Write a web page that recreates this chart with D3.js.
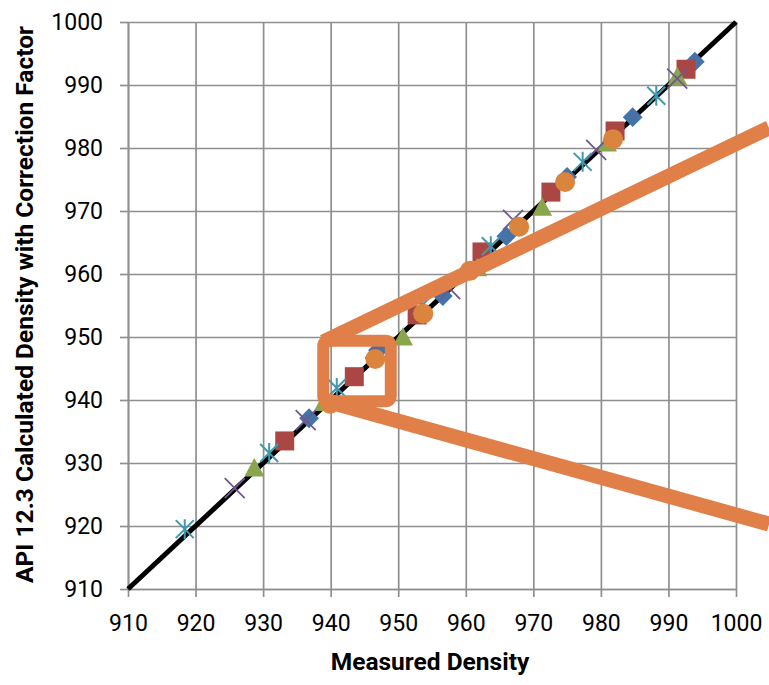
<!DOCTYPE html>
<meta charset="utf-8">
<html>
<head>
<style>
body {
  margin: 0;
  background: #fff;
  font-family: Roboto, "Open Sans", sans-serif;
}

.grid line {
  stroke: #8f8f8f;
  stroke-width: 1.7;
}

.grid path {
  stroke-width: 0;
}

.axis path, .axis line {
  stroke: #8f8f8f;
  stroke-width: 1.7;
}

.axis text {
  font-family: Roboto, sans-serif;
  font-size: 23px;
  fill: #000;
}
</style>
</head>
<body>

<div id="my_dataviz"></div>

<script src="https://d3js.org/d3.v7.min.js"></script>
<script>

// tick values, same for both axes
var ticks = [910, 920, 930, 940, 950, 960, 970, 980, 990, 1000];

// [measured, calculated] per series
var diamondPts = [[936.8, 937.1], [947.0, 947.9], [956.6, 956.5], [966.0, 966.0], [975.0, 975.4], [984.7, 984.9], [993.9, 993.7]];
var squarePts = [[933.2, 933.5], [943.5, 943.7], [952.8, 953.5], [962.4, 963.5], [972.6, 973.0], [982.1, 982.7], [992.6, 992.5]];
var trianglePts = [[928.7, 929.2], [939.0, 939.6], [950.7, 950.0], [961.7, 961.0], [971.3, 970.6], [980.9, 980.8], [991.3, 991.3]];
var crossPts = [[925.8, 926.0], [936.3, 936.8], [946.6, 948.2], [957.7, 957.6], [967.0, 968.6], [979.3, 979.7], [991.3, 991.0]];
var starPts = [[918.4, 919.5], [930.9, 931.6], [940.9, 941.9], [953.5, 955.0], [963.7, 964.4], [977.3, 977.8], [988.2, 988.3]];
var circlePts = [[939.9, 939.4], [946.6, 946.5], [953.7, 953.7], [960.6, 960.5], [967.9, 967.5], [974.7, 974.6], [981.8, 981.4]];

// the y = x reference line
var refLine = [[910, 910], [1000, 1000]];

// orange callout drawn over the chart (data units)
var calloutBox = [938.9, 939.8, 948.9, 949.4];   // x0, y0, x1, y1
var calloutTop = [[938.9, 949.2], [1004.9, 983.2]];
var calloutBottom = [[939.1, 939.9], [1004.9, 920.3]];

var margin = {top: 22, right: 33, bottom: 96, left: 128},
    width = 769 - margin.left - margin.right,
    height = 685 - margin.top - margin.bottom;

var svg = d3.select("#my_dataviz")
  .append("svg")
    .attr("width", width + margin.left + margin.right)
    .attr("height", height + margin.top + margin.bottom)
  .append("g")
    .attr("transform", "translate(" + margin.left + "," + margin.top + ")");

var x = d3.scaleLinear()
  .domain([910, 1000])
  .range([0, width]);

var y = d3.scaleLinear()
  .domain([910, 1000])
  .range([height, 0]);

// gridlines
svg.append("g")
  .attr("class", "grid")
  .attr("transform", "translate(0," + height + ")")
  .call(d3.axisBottom(x).tickValues(ticks).tickSize(-height).tickFormat(""));

svg.append("g")
  .attr("class", "grid")
  .call(d3.axisLeft(y).tickValues(ticks).tickSize(-width).tickFormat(""));

// axes
svg.append("g")
  .attr("class", "axis")
  .attr("transform", "translate(0," + height + ")")
  .call(d3.axisBottom(x).tickValues(ticks).tickSize(8).tickSizeOuter(0).tickPadding(18).tickFormat(d3.format("d")));

svg.append("g")
  .attr("class", "axis")
  .call(d3.axisLeft(y).tickValues(ticks).tickSize(8).tickSizeOuter(0).tickPadding(17).tickFormat(d3.format("d")));

// axis titles
svg.append("text")
  .attr("x", width / 2 - 2)
  .attr("y", height + 81)
  .style("text-anchor", "middle")
  .style("font-family", "Roboto, sans-serif")
  .style("font-weight", "bold")
  .style("font-size", "24.5px")
  .text("Measured Density");

svg.append("text")
  .attr("transform", "rotate(-90)")
  .attr("x", -(height / 2) + 1)
  .attr("y", -95)
  .style("text-anchor", "middle")
  .style("font-family", "Roboto, sans-serif")
  .style("font-weight", "bold")
  .style("font-size", "24.5px")
  .text("API 12.3 Calculated Density with Correction Factor");

// y = x line
svg.append("path")
  .datum(refLine)
  .attr("d", d3.line()
    .x(function(d) { return x(d[0]) })
    .y(function(d) { return y(d[1]) })
  )
  .attr("stroke", "black")
  .style("stroke-width", 5)
  .style("fill", "none");

function pos(d) {
  return "translate(" + x(d[0]) + "," + y(d[1]) + ")";
}

// blue diamonds
svg.append("g").selectAll("path")
  .data(diamondPts)
  .enter()
  .append("path")
    .attr("transform", function(d) { return pos(d) + " rotate(45)" })
    .attr("d", d3.symbol().type(d3.symbolSquare).size(196))
    .style("fill", "#4572A7");

// red squares
svg.append("g").selectAll("path")
  .data(squarePts)
  .enter()
  .append("path")
    .attr("transform", pos)
    .attr("d", d3.symbol().type(d3.symbolSquare).size(361))
    .style("fill", "#AA4643");

// green triangles
svg.append("g").selectAll("path")
  .data(trianglePts)
  .enter()
  .append("path")
    .attr("transform", pos)
    .attr("d", "M0,-10L10,8.5L-10,8.5Z")
    .style("fill", "#89A54E");

// purple crosses
svg.append("g").selectAll("path")
  .data(crossPts)
  .enter()
  .append("path")
    .attr("transform", pos)
    .attr("d", "M-10,-10L10,10M-10,10L10,-10")
    .attr("stroke", "#71588F")
    .style("stroke-width", 1.8)
    .style("fill", "none");

// cyan asterisks
svg.append("g").selectAll("path")
  .data(starPts)
  .enter()
  .append("path")
    .attr("transform", pos)
    .attr("d", "M-9,-9L9,9M-9,9L9,-9M0,-10L0,10")
    .attr("stroke", "#4198AF")
    .style("stroke-width", 2)
    .style("fill", "none");

// orange circles
svg.append("g").selectAll("circle")
  .data(circlePts)
  .enter()
  .append("circle")
    .attr("cx", function(d) { return x(d[0]) })
    .attr("cy", function(d) { return y(d[1]) })
    .attr("r", 10)
    .style("fill", "#DB843D");

// callout: zoom box and the two lines
var callColor = "#E07F47";

svg.append("rect")
  .attr("x", x(calloutBox[0]))
  .attr("y", y(calloutBox[3]))
  .attr("width", x(calloutBox[2]) - x(calloutBox[0]))
  .attr("height", y(calloutBox[1]) - y(calloutBox[3]))
  .attr("rx", 5)
  .attr("stroke", callColor)
  .style("stroke-width", 12)
  .style("fill", "none");

[calloutTop, calloutBottom].forEach(function(seg) {
  svg.append("path")
    .datum(seg)
    .attr("d", d3.line()
      .x(function(d) { return x(d[0]) })
      .y(function(d) { return y(d[1]) })
    )
    .attr("stroke", callColor)
    .style("stroke-width", 15)
    .style("fill", "none");
});

</script>
</body>
</html>
